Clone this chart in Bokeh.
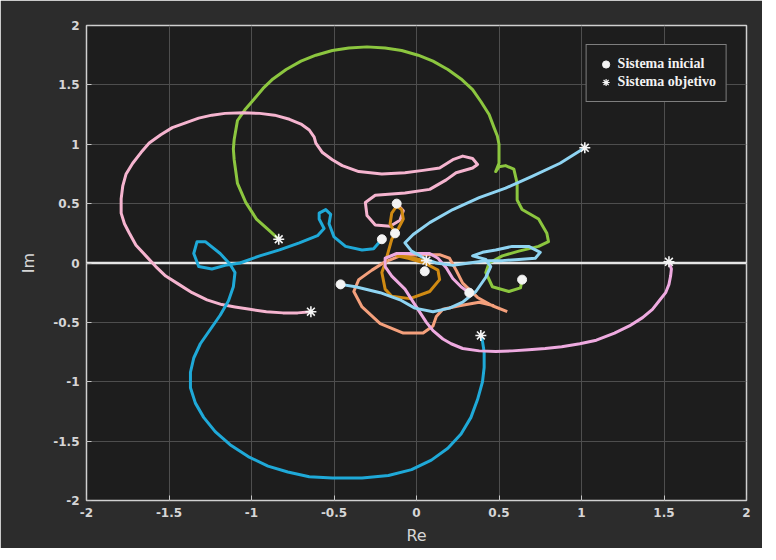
from bokeh.plotting import figure
from bokeh.models import Span, Legend, LegendItem, FixedTicker, CustomJSTickFormatter
from bokeh.embed import file_html
from bokeh.resources import INLINE

tick_vals = [-2, -1.5, -1, -0.5, 0, 0.5, 1, 1.5, 2]
tick_labels = ["-2", "-1.5", "-1", "-0.5", "0", "0.5", "1", "1.5", "2"]

green_x = [-0.835, -0.89, -0.97, -1.035, -1.085, -1.105, -1.11, -1.105, -1.085, -1.04, -0.99, -0.93, -0.87,
           -0.79, -0.70, -0.61, -0.51, -0.41, -0.30, -0.19, -0.09, 0.01, 0.10, 0.19, 0.27, 0.34, 0.39,
           0.44, 0.47, 0.49, 0.50, 0.50, 0.48, 0.50, 0.54, 0.59, 0.61, 0.61, 0.64, 0.74, 0.79,
           0.80, 0.74, 0.62, 0.52, 0.44, 0.42, 0.46, 0.56, 0.63, 0.64]
green_y = [0.20, 0.27, 0.37, 0.51, 0.67, 0.87, 0.96, 1.04, 1.20, 1.29, 1.37, 1.47, 1.55,
           1.63, 1.70, 1.75, 1.79, 1.81, 1.82, 1.81, 1.79, 1.75, 1.70, 1.63, 1.55, 1.46, 1.36,
           1.25, 1.14, 1.07, 1.00, 0.84, 0.77, 0.81, 0.82, 0.79, 0.67, 0.53, 0.45, 0.37, 0.25,
           0.18, 0.14, 0.10, 0.06, 0.00, -0.08, -0.20, -0.24, -0.21, -0.14]

pink1_x = [-0.64, -0.72, -0.81, -0.91, -1.01, -1.10, -1.18, -1.27, -1.36, -1.44, -1.52, -1.58, -1.64, -1.70,
           -1.74, -1.77, -1.79, -1.79, -1.78, -1.76, -1.72, -1.67, -1.62, -1.55, -1.48, -1.40, -1.32, -1.24,
           -1.16, -1.05, -0.95, -0.86, -0.77, -0.70, -0.65, -0.62, -0.61, -0.57, -0.51, -0.45, -0.35, -0.21,
           -0.07, 0.04, 0.14, 0.22, 0.28, 0.34, 0.37,
           0.34, 0.24, 0.18, 0.08, -0.07, -0.25, -0.31, -0.30, -0.25, -0.16, -0.10, -0.08, -0.12]
pink1_y = [-0.41, -0.42, -0.42, -0.41, -0.39, -0.37, -0.35, -0.31, -0.25, -0.18, -0.11, -0.03, 0.06, 0.15,
           0.25, 0.33, 0.42, 0.54, 0.65, 0.75, 0.84, 0.93, 1.01, 1.08, 1.14, 1.18, 1.22, 1.245,
           1.26, 1.265, 1.26, 1.245, 1.21, 1.17, 1.12, 1.06, 1.01, 0.93, 0.87, 0.82, 0.77, 0.75,
           0.76, 0.78, 0.80, 0.87, 0.90, 0.88, 0.83,
           0.80, 0.76, 0.70, 0.62, 0.59, 0.57, 0.51, 0.40, 0.32, 0.31, 0.36, 0.44, 0.50]

pink2_x = [1.53, 1.545, 1.54, 1.53, 1.51, 1.47, 1.43, 1.37, 1.29, 1.20, 1.09, 0.99, 0.88, 0.78, 0.68, 0.58,
           0.48, 0.38, 0.28, 0.21, 0.16, 0.10, 0.06, -0.01, -0.07, -0.15,
           -0.19, -0.19, -0.12, 0.00, 0.08, 0.13, 0.18, 0.22, 0.27, 0.32]
pink2_y = [0.01, -0.05, -0.11, -0.18, -0.25, -0.32, -0.39, -0.46, -0.53, -0.59, -0.65, -0.68, -0.705, -0.72,
           -0.73, -0.74, -0.745, -0.74, -0.72, -0.68, -0.64, -0.57, -0.50, -0.35, -0.22, -0.11,
           -0.03, 0.04, 0.08, 0.08, 0.08, 0.04, -0.04, -0.13, -0.20, -0.25]

cyan_x = [0.39, 0.40, 0.41, 0.41, 0.40, 0.37, 0.33, 0.27, 0.19, 0.09, -0.03, -0.17, -0.33, -0.51, -0.65,
          -0.78, -0.90, -1.02, -1.13, -1.22, -1.29, -1.34, -1.37, -1.37, -1.35, -1.31, -1.25, -1.19, -1.14,
          -1.11, -1.10, -1.13, -1.19, -1.28, -1.33, -1.35, -1.32, -1.24, -1.16,
          -1.07, -0.95, -0.83, -0.71, -0.60, -0.56, -0.59, -0.59, -0.55, -0.52, -0.53, -0.50, -0.43, -0.33,
          -0.26, -0.21]
cyan_y = [-0.61, -0.66, -0.75, -0.88, -1.00, -1.15, -1.30, -1.44, -1.56, -1.66, -1.74, -1.79, -1.81, -1.81, -1.80,
          -1.76, -1.71, -1.63, -1.53, -1.42, -1.30, -1.18, -1.05, -0.92, -0.80, -0.68, -0.56, -0.44, -0.32,
          -0.20, -0.08, -0.01, 0.08, 0.18, 0.18, 0.08, -0.03, -0.05, -0.02,
          0.00, 0.06, 0.11, 0.17, 0.23, 0.29, 0.37, 0.42, 0.45, 0.41, 0.33, 0.22, 0.14, 0.11,
          0.12, 0.20]

lblue_x = [-0.46, -0.37, -0.22, -0.10, -0.01, 0.10, 0.20, 0.28, 0.36, 0.42, 0.45, 0.42, 0.34, 0.40, 0.48,
           0.58, 0.68, 0.75, 0.72, 0.62, 0.52, 0.42, 0.32, 0.22, 0.12, 0.06, -0.03, -0.07, -0.02, 0.08,
           0.22, 0.38, 0.54, 0.70, 0.87, 1.02]
lblue_y = [-0.18, -0.20, -0.25, -0.31, -0.38, -0.41, -0.38, -0.33, -0.24, -0.12, -0.03, 0.03, 0.06, 0.09, 0.11,
           0.14, 0.14, 0.09, 0.04, 0.03, 0.02, 0.02, 0.00, -0.02, 0.00, 0.03, 0.10, 0.17, 0.24, 0.34,
           0.45, 0.55, 0.63, 0.73, 0.84, 0.97]

salmon_x = [0.55, 0.46, 0.37, 0.28, 0.24, 0.20, 0.14, 0.02, -0.10, -0.19, -0.27, -0.35, -0.38, -0.33, -0.22,
            -0.08, 0.04, 0.10, 0.12, 0.16, 0.26, 0.38, 0.47]
salmon_y = [-0.41, -0.36, -0.29, -0.17, -0.06, 0.04, 0.07, 0.07, 0.06, 0.01, -0.06, -0.14, -0.24, -0.37, -0.51,
            -0.59, -0.59, -0.53, -0.45, -0.39, -0.36, -0.33, -0.36]

orange_x = [-0.13, -0.16, -0.15, -0.12, -0.09, -0.08, -0.11, -0.15, -0.17, -0.19, -0.21, -0.19, -0.15, -0.04,
            0.08, 0.14, 0.13, 0.05, -0.05, -0.12, -0.05, 0.05]
orange_y = [0.25, 0.33, 0.42, 0.48, 0.45, 0.37, 0.29, 0.20, 0.10, 0.00, -0.08, -0.22, -0.28, -0.30,
            -0.24, -0.14, -0.06, 0.00, 0.04, 0.06, 0.05, 0.02]

init_x = [0.64, -0.12, 0.32, -0.21, -0.46, -0.13, 0.05]
init_y = [-0.14, 0.50, -0.25, 0.20, -0.18, 0.25, -0.07]

target_x = [-0.835, -0.64, 1.53, 0.39, 1.02, 0.06]
target_y = [0.20, -0.41, 0.01, -0.61, 0.97, 0.02]

p = figure(width=762, height=548, x_range=(-2, 2), y_range=(-2, 2),
           output_backend="svg", toolbar_location=None,
           background_fill_color="#1d1d1d", border_fill_color="#2c2c2c",
           min_border_left=86, min_border_right=16, min_border_top=25, min_border_bottom=48)

p.outline_line_color = "#d0d0d0"
p.outline_line_width = 1.5

p.grid.grid_line_color = "#4e4e4e"
p.grid.grid_line_width = 1

fmt_code = "const i = vals.indexOf(tick); return i >= 0 ? labels[i] : '';"
for ax in (p.xaxis[0], p.yaxis[0]):
    ax.ticker = FixedTicker(ticks=tick_vals)
    ax.formatter = CustomJSTickFormatter(args=dict(vals=tick_vals, labels=tick_labels), code=fmt_code)
    ax.axis_line_color = None
    ax.major_tick_line_color = "#c8c8c8"
    ax.major_tick_in = 5
    ax.major_tick_out = 0
    ax.minor_tick_line_color = None
    ax.major_label_text_color = "#d6d6d6"
    ax.major_label_text_font = "DejaVu Sans"
    ax.major_label_text_font_size = "12px"
    ax.major_label_text_font_style = "bold"
    ax.axis_label_text_color = "#d6d6d6"
    ax.axis_label_text_font = "DejaVu Sans"
    ax.axis_label_text_font_size = "16px"
    ax.axis_label_text_font_style = "normal"

p.xaxis.axis_label = "Re"
p.yaxis.axis_label = "Im"
p.xaxis.major_label_standoff = 7
p.yaxis.major_label_standoff = 7
p.xaxis.axis_label_standoff = 6
p.yaxis.axis_label_standoff = 12

p.add_layout(Span(location=0, dimension="width", line_color="#e6e6e6", line_width=2.5, level="underlay"))

lw = 3
p.line(green_x, green_y, line_color="#8cc63f", line_width=lw, line_join="round")
p.line(pink1_x, pink1_y, line_color="#f5b4cf", line_width=lw, line_join="round")
p.line(cyan_x, cyan_y, line_color="#1fa9d8", line_width=lw, line_join="round")
p.line(salmon_x, salmon_y, line_color="#f4a07c", line_width=lw, line_join="round")
p.line(orange_x, orange_y, line_color="#d08a12", line_width=lw, line_join="round")
p.line(pink2_x, pink2_y, line_color="#eeaae0", line_width=lw, line_join="round")
p.line(lblue_x, lblue_y, line_color="#8fd4f2", line_width=lw, line_join="round")

p.scatter(init_x, init_y, marker="circle", size=9, fill_color="#f4f4f4", line_color="#f4f4f4")
p.scatter(target_x, target_y, marker="asterisk", size=11, line_color="#f4f4f4", line_width=1.6)

# legend-only glyphs (no data points drawn in the plot)
leg_dot = p.scatter([float("nan")], [float("nan")], marker="circle", size=6,
                    fill_color="#f4f4f4", line_color="#f4f4f4")
leg_star = p.scatter([float("nan")], [float("nan")], marker="asterisk", size=8,
                     line_color="#f4f4f4", line_width=1.2)

legend = Legend(items=[LegendItem(label="Sistema inicial", renderers=[leg_dot]),
                       LegendItem(label="Sistema objetivo", renderers=[leg_star])],
                location="top_right")
legend.background_fill_color = "#1d1d1d"
legend.background_fill_alpha = 1
legend.border_line_color = "#e0e0e0"
legend.border_line_width = 1.5
legend.label_text_color = "#f2f2f2"
legend.label_text_font = "Liberation Serif"
legend.label_text_font_size = "14px"
legend.label_text_font_style = "bold"
legend.glyph_width = 18
legend.glyph_height = 18
legend.label_height = 14
legend.spacing = 0
legend.padding = 10
legend.margin = 19
legend.label_standoff = 3
p.add_layout(legend)

open("out.html", "w").write(file_html(p, INLINE))
